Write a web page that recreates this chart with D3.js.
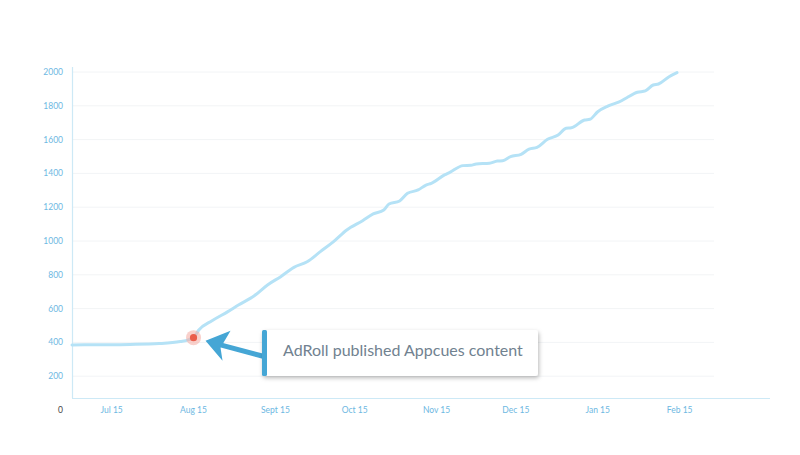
<!DOCTYPE html>
<html>
<head>
<meta charset="utf-8">
<script src="https://cdn.jsdelivr.net/npm/d3@7/dist/d3.min.js"></script>
<style>
  html, body { margin: 0; padding: 0; background: #fff; }
  svg { display: block; font-family: Lato, "Open Sans", sans-serif; }
</style>
</head>
<body>
<svg id="chart" width="800" height="455"></svg>
<script>
// ---- data ----
const dates = ["2015-06-30","2015-07-10","2015-07-22","2015-08-02","2015-08-10","2015-08-15","2015-08-17","2015-08-22","2015-08-28","2015-09-01","2015-09-07","2015-09-12","2015-09-17","2015-09-22","2015-09-27","2015-10-02","2015-10-07","2015-10-12","2015-10-18","2015-10-22","2015-10-26","2015-10-28","2015-11-01","2015-11-04","2015-11-08","2015-11-11","2015-11-13","2015-11-18","2015-11-20","2015-11-25","2015-11-28","2015-11-30","2015-12-05","2015-12-08","2015-12-10","2015-12-13","2015-12-17","2015-12-20","2015-12-23","2015-12-27","2015-12-31","2016-01-03","2016-01-05","2016-01-10","2016-01-12","2016-01-15","2016-01-19","2016-01-24","2016-01-26","2016-01-30","2016-02-02","2016-02-05","2016-02-07","2016-02-11","2016-02-14"];
const values = [385,386,388,393,405,428,473,528,582,621,676,740,789,844,877,937,996,1065,1120,1160,1183,1219,1237,1282,1302,1331,1341,1391,1406,1446,1448,1456,1460,1473,1475,1499,1513,1544,1554,1602,1627,1667,1670,1716,1720,1765,1799,1830,1848,1880,1888,1923,1929,1972,1996];
const yTicks = [200,400,600,800,1000,1200,1400,1600,1800,2000];
const xTickDates = ["2015-07-15","2015-08-15","2015-09-15","2015-10-15","2015-11-15","2015-12-15","2016-01-15","2016-02-15"];
const xTickLabels = ["Jul 15","Aug 15","Sept 15","Oct 15","Nov 15","Dec 15","Jan 15","Feb 15"];
const eventDate = "2015-08-15";
const eventValue = 428;
const eventLabel = "AdRoll published Appcues content";

// ---- setup ----
const parse = d3.timeParse("%Y-%m-%d");
const data = dates.map((d, i) => ({ date: parse(d), value: values[i] }));
const svg = d3.select("#chart");

const x = d3.scaleTime()
  .domain([parse("2015-06-30"), parse("2016-02-28")])
  .range([72, 714]);
const y = d3.scaleLinear().domain([0, 2000]).range([410, 72]);
const baseY = 398;

// gridlines
svg.append("g")
  .selectAll("line")
  .data(yTicks)
  .join("line")
  .attr("x1", 72).attr("x2", 714)
  .attr("y1", d => y(d)).attr("y2", d => y(d))
  .attr("stroke", "#f2f4f6").attr("stroke-width", 1);

// y axis line
svg.append("line")
  .attr("x1", 72.5).attr("x2", 72.5)
  .attr("y1", 67).attr("y2", baseY)
  .attr("stroke", "#cde9f6").attr("stroke-width", 1.2);

// x axis line
svg.append("line")
  .attr("x1", 72).attr("x2", 770)
  .attr("y1", baseY + 0.5).attr("y2", baseY + 0.5)
  .attr("stroke", "#cde9f6").attr("stroke-width", 1.2);

// y tick labels
svg.append("g")
  .selectAll("text")
  .data(yTicks)
  .join("text")
  .attr("x", 63)
  .attr("y", d => y(d) + 3)
  .attr("text-anchor", "end")
  .attr("font-size", 8.5)
  .attr("fill", "#6db8e2")
  .text(d => d);

// zero label
svg.append("text")
  .attr("x", 63).attr("y", 413)
  .attr("text-anchor", "end")
  .attr("font-size", 8.5)
  .attr("fill", "#444")
  .text("0");

// x tick labels
svg.append("g")
  .selectAll("text")
  .data(xTickDates)
  .join("text")
  .attr("x", d => x(parse(d)))
  .attr("y", 413)
  .attr("text-anchor", "middle")
  .attr("font-size", 8.5)
  .attr("fill", "#6db8e2")
  .text((d, i) => xTickLabels[i]);

// line
const line = d3.line()
  .x(d => x(d.date))
  .y(d => y(d.value))
  .curve(d3.curveMonotoneX);
svg.append("path")
  .datum(data)
  .attr("d", line)
  .attr("fill", "none")
  .attr("stroke", "#b5e2f6")
  .attr("stroke-width", 3)
  .attr("stroke-linecap", "round");

// event marker
const ex = x(parse(eventDate)), ey = y(eventValue);
svg.append("circle").attr("cx", ex).attr("cy", ey).attr("r", 7.5)
  .attr("fill", "#f4a9a0").attr("opacity", 0.55);
svg.append("circle").attr("cx", ex).attr("cy", ey).attr("r", 3.6)
  .attr("fill", "#ea5d4b");

// annotation box
const defs = svg.append("defs");
const f = defs.append("filter").attr("id", "shadow")
  .attr("x", "-10%").attr("y", "-30%").attr("width", "120%").attr("height", "170%");
f.append("feDropShadow").attr("dx", 1).attr("dy", 2).attr("stdDeviation", 2)
  .attr("flood-color", "#000").attr("flood-opacity", 0.28);

const bx = 262, by = 330, bw = 276, bh = 46;

// arrow
const tipX = ex + 12, tipY = ey + 3;
svg.append("line")
  .attr("x1", tipX + 14).attr("y1", tipY + 4)
  .attr("x2", bx + 4).attr("y2", by + 27)
  .attr("stroke", "#45a6d5").attr("stroke-width", 5);
svg.append("path")
  .attr("d", `M${tipX},${tipY} L${tipX + 25},${tipY - 10} L${tipX + 15},${tipY + 7} L${tipX + 17},${tipY + 20} Z`)
  .attr("fill", "#45a6d5");

svg.append("rect")
  .attr("x", bx).attr("y", by).attr("width", bw).attr("height", bh)
  .attr("rx", 3)
  .attr("fill", "#fff")
  .attr("filter", "url(#shadow)");
svg.append("rect")
  .attr("x", bx).attr("y", by).attr("width", 5).attr("height", bh)
  .attr("rx", 1.5)
  .attr("fill", "#45a6d5");
svg.append("text")
  .attr("x", 283).attr("y", 356)
  .attr("font-size", 16)
  .attr("fill", "#718290")
  .text(eventLabel);
</script>
</body>
</html>
